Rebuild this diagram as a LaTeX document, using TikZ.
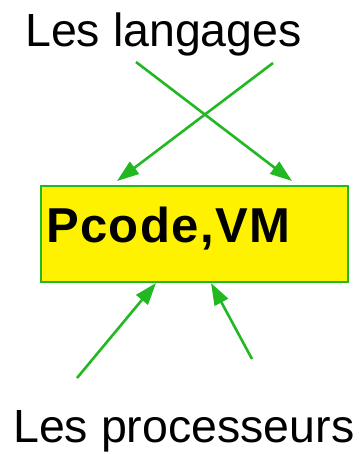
\documentclass[tikz,border=0pt]{standalone}
\usepackage{fontspec}
\setmainfont{Liberation Sans}
\newfontfamily\vmfont[LetterSpace=2.8]{Liberation Sans}
\usetikzlibrary{arrows.meta}
\definecolor{arrowgreen}{HTML}{22B822}
\definecolor{boxyellow}{HTML}{FFF200}
\tikzset{
  label text/.style={anchor=base west, inner sep=0pt, font=\fontsize{46.5}{56}\selectfont},
  flow/.style={draw=arrowgreen, line width=2.6pt, -{Triangle[length=22pt,width=15pt]}},
  vmbox/.style={draw=arrowgreen, fill=boxyellow, line width=1.8pt}
}
\begin{document}
\begin{tikzpicture}[x=1pt,y=-1pt]
  \useasboundingbox (0,0) rectangle (363,454);
  % box
  \draw[vmbox] (41,186) rectangle (348,282);
  \node[anchor=base west, inner sep=0pt, font=\vmfont\fontsize{49}{58}\selectfont\bfseries] (vm) at (46,242) {Pcode,VM};
  % texts
  \node[label text] (lang) at (25,47) {Les langages};
  \node[label text] (proc) at (13,442) {Les processeurs};
  % arrow endpoints
  \coordinate (l1) at (136,62);
  \coordinate (l2) at (273,63);
  \coordinate (t1) at (292,181);
  \coordinate (t2) at (117,181);
  \coordinate (p1) at (77,378);
  \coordinate (p2) at (252,359);
  \coordinate (b1) at (156,283);
  \coordinate (b2) at (211,283);
  \draw[flow] (l1) -- (t1);
  \draw[flow] (l2) -- (t2);
  \draw[flow] (p1) -- (b1);
  \draw[flow] (p2) -- (b2);
\end{tikzpicture}
\end{document}
